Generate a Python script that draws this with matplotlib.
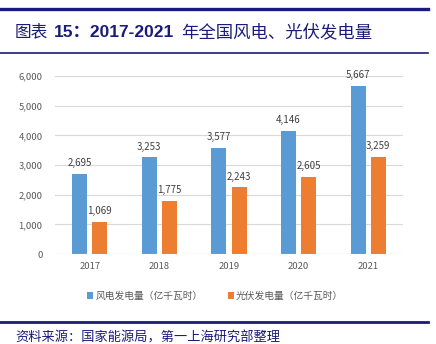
import matplotlib.pyplot as plt
from matplotlib.lines import Line2D
import numpy as np

plt.rcParams['font.family'] = ['Noto Sans CJK SC', 'DejaVu Sans']

years = ['2017', '2018', '2019', '2020', '2021']
wind = [2695, 3253, 3577, 4146, 5667]
solar = [1069, 1775, 2243, 2605, 3259]
series_names = ['风电发电量（亿千瓦时）', '光伏发电量（亿千瓦时）']

W, H = 436, 344
fig = plt.figure(figsize=(W / 100, H / 100), dpi=100)
navy = '#1b1b7a'

# header and footer rules
fig.add_artist(Line2D([0, 428 / W], [1 - 8.5 / H] * 2, color=navy, lw=2.4))
fig.add_artist(Line2D([0, 428 / W], [1 - 53 / H] * 2, color=navy, lw=1.2))
fig.add_artist(Line2D([0, 428 / W], [1 - 322 / H] * 2, color=navy, lw=2.0))

# title, with the figure number in bold
ty = 1 - 32 / H
fig.text(15 / W, ty, '图表', color=navy, fontsize=12, va='center')
fig.text(54 / W, ty, '15：2017-2021', color=navy, fontsize=12.5,
         fontweight='bold', va='center',
         family=['Liberation Sans', 'Noto Sans CJK SC'])
fig.text(181 / W, ty, '年全国风电、光伏发电量', color=navy, fontsize=12.5, va='center')

fig.text(15 / W, 1 - 337.5 / H, '资料来源：国家能源局，第一上海研究部整理', color=navy,
         fontsize=9.5, va='center')

ax = fig.add_axes([55 / W, 1 - 254 / H, 348 / W, 178 / H])
x = np.arange(len(years))
bw = 0.215
off = 0.145
b1 = ax.bar(x - off, wind, bw, color='#5b9bd5', zorder=3)
b2 = ax.bar(x + off, solar, bw, color='#ed7d31', zorder=3)

for bars, vals in ((b1, wind), (b2, solar)):
    for r, v in zip(bars, vals):
        ax.text(r.get_x() + r.get_width() / 2, v + 200, f'{v:,}', ha='center',
                va='bottom', fontsize=7, color='#404040')

ax.set_ylim(0, 6000)
ax.set_xlim(-0.5, 4.5)
ax.set_yticks(range(0, 6001, 1000))
ax.yaxis.set_major_formatter(plt.FuncFormatter(lambda v, p: f'{int(v):,}'))
ax.set_xticks(x)
ax.set_xticklabels(years)
ax.tick_params(length=0, labelsize=6.8, labelcolor='#595959')
ax.tick_params(axis='y', pad=9)
ax.tick_params(axis='x', pad=6)
ax.grid(axis='y', color='#d9d9d9', lw=0.8, zorder=0)
for s in ax.spines.values():
    s.set_visible(False)
ax.axhline(0, color='#d9d9d9', lw=0.8, zorder=4)

ax.legend([b1, b2], series_names, loc='center', bbox_to_anchor=(0.46, -0.236),
          ncol=2, frameon=False, fontsize=7, handlelength=0.6, handleheight=0.6,
          handletextpad=0.2, columnspacing=2.6, labelcolor='#595959')

fig.savefig('out.png', dpi=100)
